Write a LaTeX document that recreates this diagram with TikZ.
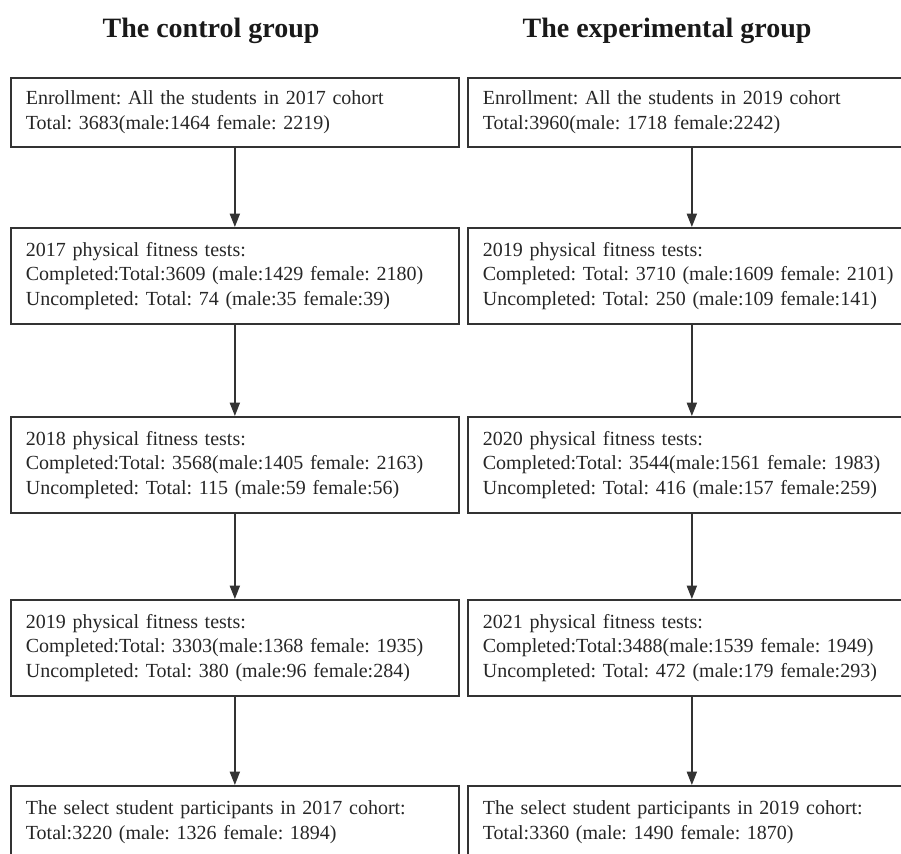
\documentclass[tikz,border=0pt]{standalone}
\usepackage{fontspec}
\setmainfont{Liberation Serif}
\usetikzlibrary{positioning, arrows.meta}

\begin{document}
\frenchspacing
\begin{tikzpicture}[x=0.75pt, y=-0.75pt,
  stage/.style={draw=black!80, line width=1.3pt, anchor=north west, text width=313.5pt,
    inner xsep=11.25pt, inner ysep=0pt, align=left, text=black!85,
    font=\fontsize{15}{18.5}\selectfont},
  heading/.style={font=\fontsize{21}{25}\selectfont\bfseries, text=black!90},
  flow/.style={draw=black!80, line width=1.3pt, -{Triangle[length=10pt, width=7.5pt]}}]

\useasboundingbox (0,0) rectangle (901,854);

% column headings
\node[heading] (ctrlT) at (211,31) {The control group};
\node[heading] (expT)  at (667,31) {The experimental group};

% control group
\node[stage, minimum height=51.75pt] (c1) at (10,77)
  {Enrollment: All the students in 2017 cohort\\Total: 3683(male:1464 female: 2219)};
\node[stage, minimum height=72pt] (c2) at (10,227)
  {2017 physical fitness tests:\\Completed:Total:3609 (male:1429 female: 2180)\\Uncompleted: Total: 74 (male:35 female:39)};
\node[stage, minimum height=72pt] (c3) at (10,416)
  {2018 physical fitness tests:\\Completed:Total: 3568(male:1405 female: 2163)\\Uncompleted: Total: 115 (male:59 female:56)};
\node[stage, minimum height=72pt] (c4) at (10,599)
  {2019 physical fitness tests:\\Completed:Total: 3303(male:1368 female: 1935)\\Uncompleted: Total: 380 (male:96 female:284)};
\node[stage, minimum height=54pt] (c5) at (10,785)
  {The select student participants in 2017 cohort:\\Total:3220 (male: 1326 female: 1894)};

% experimental group
\node[stage, minimum height=51.75pt] (e1) at (467,77)
  {Enrollment: All the students in 2019 cohort\\Total:3960(male: 1718 female:2242)};
\node[stage, minimum height=72pt] (e2) at (467,227)
  {2019 physical fitness tests:\\Completed: Total: 3710 (male:1609 female: 2101)\\Uncompleted: Total: 250 (male:109 female:141)};
\node[stage, minimum height=72pt] (e3) at (467,416)
  {2020 physical fitness tests:\\Completed:Total: 3544(male:1561 female: 1983)\\Uncompleted: Total: 416 (male:157 female:259)};
\node[stage, minimum height=72pt] (e4) at (467,599)
  {2021 physical fitness tests:\\Completed:Total:3488(male:1539 female: 1949)\\Uncompleted: Total: 472 (male:179 female:293)};
\node[stage, minimum height=54pt] (e5) at (467,785)
  {The select student participants in 2019 cohort:\\Total:3360 (male: 1490 female: 1870)};

% arrows
\draw[flow] (c1.south) -- (c2.north);
\draw[flow] (c2.south) -- (c3.north);
\draw[flow] (c3.south) -- (c4.north);
\draw[flow] (c4.south) -- (c5.north);

\draw[flow] (e1.south) -- (e2.north);
\draw[flow] (e2.south) -- (e3.north);
\draw[flow] (e3.south) -- (e4.north);
\draw[flow] (e4.south) -- (e5.north);
\end{tikzpicture}
\end{document}
